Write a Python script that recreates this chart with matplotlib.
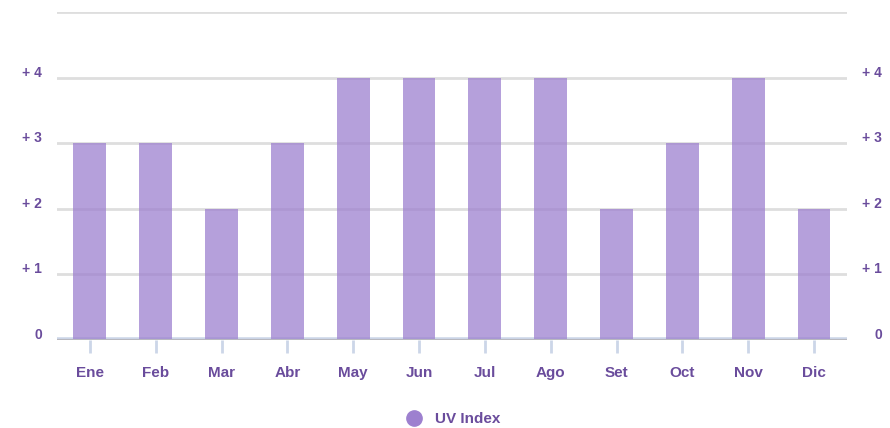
import matplotlib.pyplot as plt
import matplotlib.transforms as mtransforms
import numpy as np
from matplotlib.lines import Line2D

months = ['Ene', 'Feb', 'Mar', 'Abr', 'May', 'Jun', 'Jul', 'Ago', 'Set', 'Oct', 'Nov', 'Dic']
uv_index = [3, 3, 2, 3, 4, 4, 4, 4, 2, 3, 4, 2]
y_ticks = [0, 1, 2, 3, 4]
y_labels = ['0', '+ 1', '+ 2', '+ 3', '+ 4']

bar_color = '#9d80cf'
text_color = '#6a4c9c'

plt.rcParams['font.family'] = ['Liberation Sans', 'DejaVu Sans']

fig = plt.figure(figsize=(8.9, 4.28), dpi=100)
ax = fig.add_axes([0.064, 0.2056, 0.8876, 0.7664])

x = np.arange(len(months))
ax.bar(x, uv_index, width=0.5, color=bar_color, alpha=0.75, zorder=3)

ax.set_xlim(-0.5, len(months) - 0.5)
ax.set_ylim(0, 5)

# light horizontal grid, drawn over by the translucent bars
for v in range(1, 6):
    ax.axhline(v, color='#dedede', lw=2, zorder=1)
ax.axhline(0, color='#ccd6e8', lw=4, zorder=2)
ax.axhline(0, color='#b8b8bf', lw=1.5, zorder=4)

for s in ax.spines.values():
    s.set_visible(False)

ax.set_xticks(x)
ax.set_xticklabels(months, color=text_color, fontsize=11, fontweight='bold')
ax.tick_params(axis='x', length=9, width=2, color='#ccd6e8', pad=10)

# y labels on both sides, sitting just above their grid lines
ax.set_yticks([])
trans = ax.get_yaxis_transform() + mtransforms.ScaledTranslation(0, -1.5 / 72, fig.dpi_scale_trans)
for v, lab in zip(y_ticks, y_labels):
    ax.text(-0.019, v, lab, transform=trans, ha='right', va='bottom',
            color=text_color, fontsize=10, fontweight='bold')
    ax.text(1.0443, v, lab, transform=trans, ha='right', va='bottom',
            color=text_color, fontsize=10, fontweight='bold')

handle = Line2D([], [], marker='o', linestyle='none', markersize=11,
                markerfacecolor=bar_color, markeredgecolor=bar_color)
leg = fig.legend([handle], ['UV Index'], loc='center', bbox_to_anchor=(0.505, 0.02),
                 frameon=False, handletextpad=0.4,
                 prop={'weight': 'bold', 'size': 11})
for t in leg.get_texts():
    t.set_color(text_color)

fig.savefig('out.png', dpi=100)
